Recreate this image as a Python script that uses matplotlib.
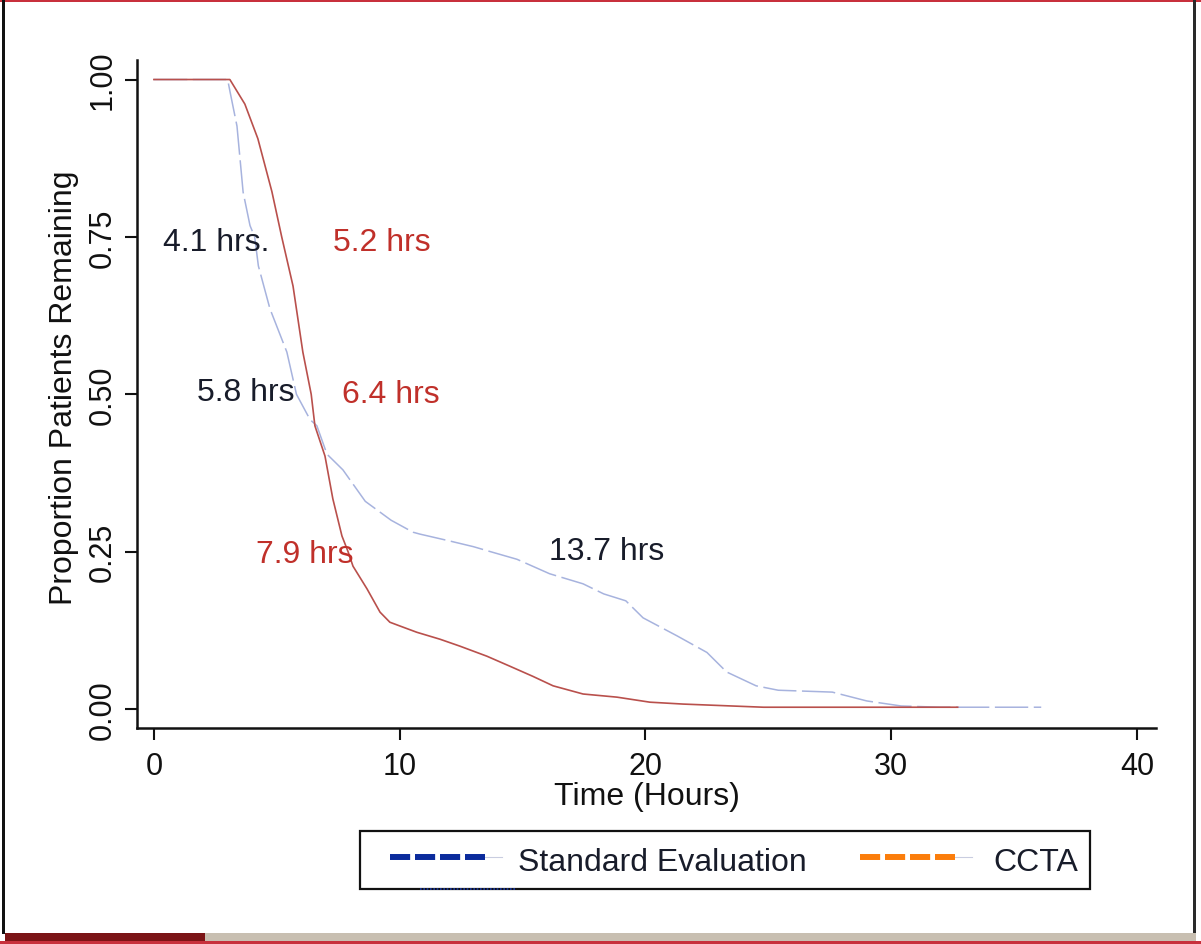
import matplotlib
matplotlib.use("Agg")
import matplotlib.pyplot as plt
from matplotlib.lines import Line2D
from matplotlib.patches import Rectangle

plt.rcParams["font.family"] = ["Liberation Sans", "DejaVu Sans"]
plt.rcParams["lines.scale_dashes"] = False

# Kaplan-Meier style curves: proportion of patients still in the department
std_hours = [0, 3.0, 3.1, 3.38, 3.63, 3.91, 4.1, 4.25, 4.72, 5.41, 5.8, 6.35,
             6.63, 7.04, 7.69, 8.6, 9.65, 10.54, 10.82, 12.04, 13.0, 13.7,
             14.77, 16.1, 17.46, 18.3, 19.2, 19.9, 21.3, 22.5, 23.3, 24.5,
             25.4, 27.6, 29.0, 30.4, 32.0, 36.1]
std_remaining = [1.0, 1.0, 0.98, 0.926, 0.821, 0.768, 0.75, 0.704, 0.636, 0.567,
                 0.50, 0.46, 0.45, 0.405, 0.38, 0.33, 0.30, 0.281, 0.278, 0.267,
                 0.258, 0.25, 0.238, 0.215, 0.199, 0.183, 0.172, 0.145, 0.116,
                 0.090, 0.059, 0.037, 0.030, 0.027, 0.013, 0.005, 0.003, 0.003]

ccta_hours = [0, 3.09, 3.70, 4.23, 4.80, 5.2, 5.66, 6.06, 6.4, 6.55, 6.96, 7.28,
              7.65, 7.9, 8.10, 8.67, 9.20, 9.60, 10.01, 10.70, 11.64, 12.45,
              13.55, 14.49, 15.42, 16.24, 17.46, 18.84, 20.18, 21.53, 24.8, 32.7]
ccta_remaining = [1.0, 1.0, 0.961, 0.906, 0.822, 0.75, 0.672, 0.567, 0.50, 0.45,
                  0.402, 0.334, 0.275, 0.25, 0.227, 0.191, 0.154, 0.138, 0.132,
                  0.122, 0.111, 0.100, 0.084, 0.068, 0.052, 0.037, 0.024, 0.019,
                  0.011, 0.008, 0.003, 0.003]

series_names = ["Standard Evaluation", "CCTA"]

# Quartile times (hours) at 75%, 50% and 25% remaining
quartile_levels = [0.75, 0.50, 0.25]
std_quartile_labels = ["4.1 hrs.", "5.8 hrs", "13.7 hrs"]
ccta_quartile_labels = ["5.2 hrs", "6.4 hrs", "7.9 hrs"]

x_ticks = [0, 10, 20, 30, 40]
y_ticks = [0.0, 0.25, 0.50, 0.75, 1.00]
y_tick_labels = ["0.00", "0.25", "0.50", "0.75", "1.00"]

W, H = 1201, 945
fig = plt.figure(figsize=(W / 100, H / 100), dpi=100)
fig.patch.set_facecolor("white")


def fx(px):
    return px / W


def fy(py):
    return 1 - py / H


ax = fig.add_axes([fx(136.7), fy(729), fx(1156) - fx(136.7), fy(61) - fy(729)])

RED = "#b9504c"
BLUE_LINE = "#a7b3de"
RED_TEXT = "#c0302a"
DARK_TEXT = "#181c2a"

ax.plot(std_hours, std_remaining, color=BLUE_LINE, lw=1.1, dashes=(24, 4),
        zorder=2)
ax.plot(ccta_hours, ccta_remaining, color=RED, lw=1.2, zorder=3)

ax.set_xlim(-0.70, 40.77)
ax.set_ylim(-0.030, 1.031)
ax.set_xticks(x_ticks)
ax.set_yticks(y_ticks)
ax.set_yticklabels(y_tick_labels)

for side in ("top", "right"):
    ax.spines[side].set_visible(False)
for side in ("left", "bottom"):
    ax.spines[side].set_linewidth(1.8)
    ax.spines[side].set_color("#111111")

ax.tick_params(axis="both", direction="out", length=8.5, width=1.5,
               colors="#111111", labelsize=22)
ax.tick_params(axis="x", pad=8)
ax.tick_params(axis="y", pad=5)
for lab in ax.get_yticklabels():
    lab.set_rotation(90)
    lab.set_va("center")

ax.set_xlabel("Time (Hours)", fontsize=23, color="#111111")
ax.xaxis.set_label_coords(0.5006, -0.079)
ax.set_ylabel("Proportion Patients Remaining", fontsize=23, color="#111111")
ax.yaxis.set_label_coords(-0.0566, 0.5105)

# Quartile annotations
std_label_x = [0.37, 1.75, 16.07]
ccta_label_x = [7.28, 7.65, 4.15]
std_label_y = [0.742, 0.504, 0.251]
ccta_label_y = [0.742, 0.50, 0.246]
for txt, x, y in zip(std_quartile_labels, std_label_x, std_label_y):
    ax.text(x, y, txt, fontsize=23, color=DARK_TEXT, ha="left", va="center")
for txt, x, y in zip(ccta_quartile_labels, ccta_label_x, ccta_label_y):
    ax.text(x, y, txt, fontsize=23, color=RED_TEXT, ha="left", va="center")

# Legend box drawn in figure pixel space
legend_box = Rectangle((fx(360), fy(890)), fx(1090) - fx(360), fy(832) - fy(890),
                       transform=fig.transFigure, facecolor="white",
                       edgecolor="#111111", lw=1.6, zorder=5)
fig.add_artist(legend_box)

legend_y = 858
key_colors = ["#0b2b9c", "#fb7d0b"]
key_starts = [390, 860]
text_starts = [518, 993]
for name, col, x0, tx in zip(series_names, key_colors, key_starts, text_starts):
    fig.add_artist(Line2D([fx(x0 + 92), fx(x0 + 112)], [fy(legend_y)] * 2,
                          transform=fig.transFigure, color="#c9cde0", lw=0.8,
                          zorder=6))
    fig.add_artist(Line2D([fx(x0), fx(x0 + 95)], [fy(legend_y)] * 2,
                          transform=fig.transFigure, color=col, lw=4.3,
                          dashes=(14.5, 3.5), solid_capstyle="butt",
                          dash_capstyle="butt", zorder=6))
    fig.text(fx(tx), fy(legend_y + 5), name, fontsize=23, color=DARK_TEXT,
             ha="left", va="center", zorder=6)

fig.add_artist(Line2D([fx(420), fx(515)], [fy(889.5)] * 2,
                      transform=fig.transFigure, color="#1b3aa8", lw=1.2,
                      dashes=(1.2, 1.2), zorder=7))

# Page frame
frame = [
    ((0, 0), W, 3, "#c8303c"),
    ((2, 0), 3, 935, "#111111"),
    ((1193, 0), 3, 935, "#2a2a2a"),
    ((5, 934), 200, 9, "#7b1416"),
    ((205, 934), 991, 9, "#c8bfb1"),
    ((0, 942), W, 3, "#c8303c"),
]
for (px, py), w, h, col in frame:
    fig.add_artist(Rectangle((fx(px), fy(py + h)), w / W, h / H,
                             transform=fig.transFigure, facecolor=col,
                             edgecolor="none", zorder=8))

fig.savefig("out.png", dpi=100, facecolor="white")
